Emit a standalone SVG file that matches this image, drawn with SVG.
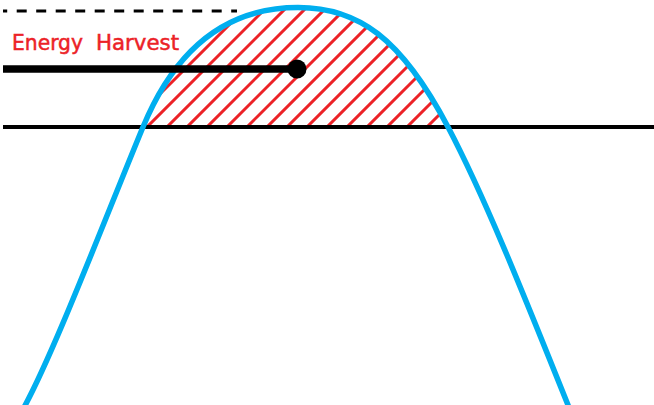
<svg xmlns="http://www.w3.org/2000/svg" width="654" height="405" viewBox="0 0 654 405">
  <style>
    .hatch { stroke: #ec2227; stroke-width: 3; fill: none; }
    .curve { stroke: #00aeef; stroke-width: 5.5; fill: none; }
    .black { stroke: #000; fill: none; }
    .label { font-family: "DejaVu Sans", "Liberation Sans", sans-serif; font-size: 21px; fill: #ec2227; stroke: #ec2227; stroke-width: 0.5; }
  </style>
  <defs>
    <clipPath id="harvestClip">
      <path d="M143,127 C176,47.1 228,7.5 298,7.5 C358,7.5 401,37.7 448,127 Z"/>
    </clipPath>
  </defs>
  <rect width="654" height="405" fill="#fff"/>

  <g id="dashed-level">
    <line class="black" x1="3" y1="11" x2="237" y2="11" stroke-width="3" stroke-dasharray="10 9.5" stroke-dashoffset="5.8"/>
  </g>

  <g id="harvest-area" clip-path="url(#harvestClip)">
    <path class="hatch" d="M104,130 L234,0 M124,130 L254,0 M144,130 L274,0 M164,130 L294,0 M184,130 L314,0 M204,130 L334,0 M224,130 L354,0 M244,130 L374,0 M264,130 L394,0 M284,130 L414,0 M304,130 L434,0 M324,130 L454,0 M344,130 L474,0 M364,130 L494,0 M384,130 L514,0 M404,130 L534,0 M424,130 L554,0 M444,130 L574,0"/>
  </g>

  <g id="threshold">
    <line class="black" x1="3" y1="127" x2="654" y2="127" stroke-width="4"/>
  </g>

  <g id="wave">
    <path class="curve" d="M22.6,410 C52.6,356 103,223.8 143,127 C176,47.1 228,7.5 298,7.5 C358,7.5 401,37.7 448,127 C483,193.5 520,285 570,410"/>
  </g>

  <g id="connectors">
    <line class="black" x1="3" y1="69" x2="297" y2="69" stroke-width="7.5"/>
    <circle cx="297" cy="69" r="9.5" fill="#000"/>
  </g>

  <g id="label">
    <text class="label" y="50"><tspan x="12" textLength="71" lengthAdjust="spacingAndGlyphs">Energy</tspan><tspan x="96" textLength="83" lengthAdjust="spacingAndGlyphs">Harvest</tspan></text>
  </g>
</svg>
